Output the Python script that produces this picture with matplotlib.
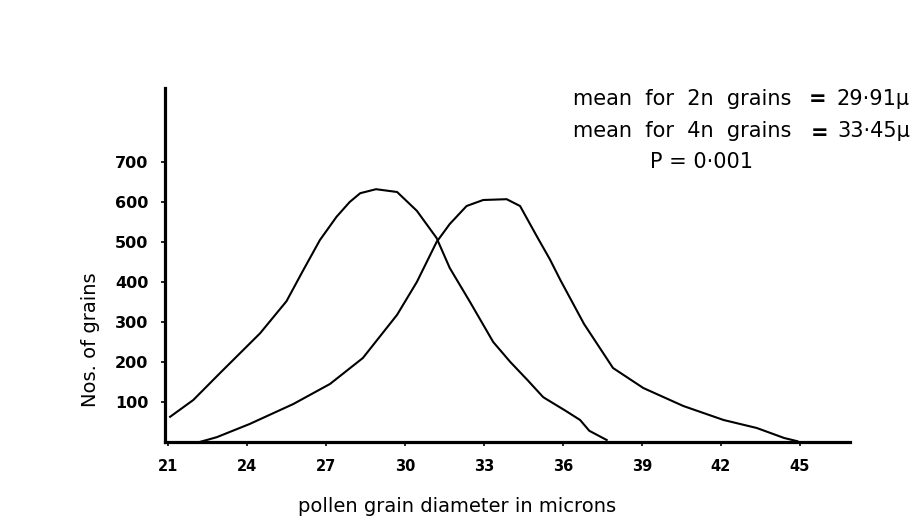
import matplotlib.pyplot as plt

# pollen grain diameter (microns) vs number of grains
x_2n = [21.08, 21.96, 22.97, 24.5, 25.5, 26.14, 26.77, 27.4, 27.9, 28.3, 28.9, 29.7,
        30.45, 31.2, 31.7, 32.47, 33.35, 34.0, 34.65, 35.25, 36.1, 36.65, 37.0, 37.66]
y_2n = [63, 105, 172, 272, 352, 430, 505, 563, 600, 622, 632, 625,
        578, 510, 435, 350, 250, 200, 155, 112, 78, 55, 28, 5]

x_4n = [22.2, 22.85, 24.1, 25.76, 27.15, 28.4, 29.7, 30.45, 31.2, 31.7, 32.34, 32.97,
        33.86, 34.37, 35.0, 35.5, 35.9, 36.8, 37.9, 39.05, 40.57, 42.1, 43.36, 44.4, 44.9]
y_4n = [0, 12, 45, 95, 145, 210, 318, 400, 500, 545, 590, 605,
        607, 590, 515, 457, 405, 295, 185, 135, 90, 55, 35, 10, 2]

xticks = [21, 24, 27, 30, 33, 36, 39, 42, 45]
yticks = [100, 200, 300, 400, 500, 600, 700]

W, H = 923, 523
fig = plt.figure(figsize=(W / 100, H / 100), dpi=100)

# axes box in pixels: left 165, right 850, bottom 442, top 88
ax = fig.add_axes([165 / W, (H - 442) / H, (850 - 165) / W, (442 - 88) / H])
ax.set_xlim(20.886, 46.9)
ax.set_ylim(0, 885)

ax.plot(x_2n, y_2n, color='black', lw=1.5, solid_joinstyle='round')
ax.plot(x_4n, y_4n, color='black', lw=1.5, solid_joinstyle='round')

for s in ['top', 'right']:
    ax.spines[s].set_visible(False)
for s in ['left', 'bottom']:
    ax.spines[s].set_linewidth(2.3)

ax.set_xticks(xticks)
ax.set_xticklabels([str(v) for v in xticks], fontweight='bold', fontsize=10.5)
ax.set_yticks(yticks)
ax.set_yticklabels([str(v) for v in yticks], fontweight='bold', fontsize=11.5)
ax.tick_params(axis='both', direction='out', length=3, width=1.2, pad=9)

fig.text(90 / W, 1 - 340 / H, 'Nos. of grains', fontsize=14, rotation=90,
         ha='center', va='center')
fig.text(457 / W, 1 - 507 / H, 'pollen grain diameter in microns', fontsize=14,
         ha='center', va='center')

# annotation block, top right
fs = 15
fig.text(573 / W, 1 - 105 / H, 'mean  for  2n  grains', fontsize=fs, va='baseline')
fig.text(818 / W, 1 - 105 / H, '=', fontsize=fs, va='baseline', ha='center', fontweight='bold')
fig.text(837 / W, 1 - 105 / H, '29·91μ', fontsize=fs, va='baseline')
fig.text(573 / W, 1 - 137 / H, 'mean  for  4n  grains', fontsize=fs, va='baseline')
fig.text(820 / W, 1 - 139 / H, '=', fontsize=fs, va='baseline', ha='center', fontweight='bold')
fig.text(837 / W, 1 - 137 / H, '33·45μ', fontsize=fs, va='baseline')
fig.text(650 / W, 1 - 168 / H, 'P = 0·001', fontsize=fs, va='baseline')

fig.savefig('out.png', dpi=100, facecolor='white')
